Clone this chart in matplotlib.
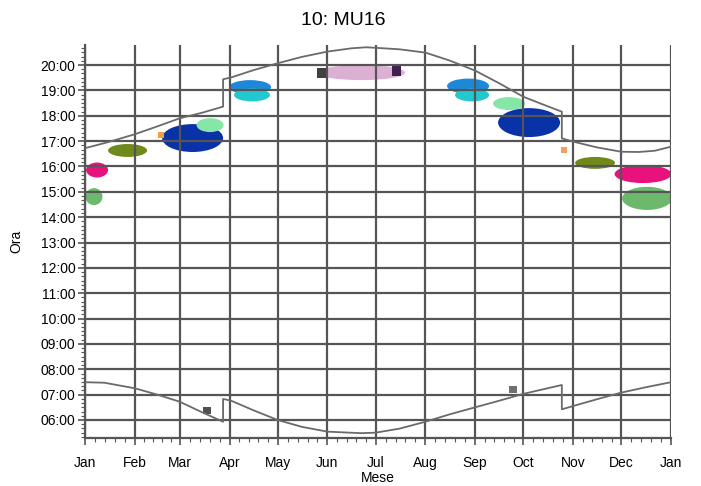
import numpy as np
from matplotlib import pyplot as plt
from matplotlib.patches import Ellipse
from matplotlib.ticker import MultipleLocator, FixedLocator, FuncFormatter

plt.rcParams['font.family'] = ['Liberation Sans', 'DejaVu Sans']

# mesi (giorno dell'anno di inizio mese)
month_days = [0, 31, 59, 90, 120, 151, 181, 212, 243, 273, 304, 334, 365]
month_labels = ["Jan", "Feb", "Mar", "Apr", "May", "Jun", "Jul", "Aug",
                "Sep", "Oct", "Nov", "Dec", "Jan"]

# tramonto (giorno, ora decimale)
sunset_day = [0, 15, 31, 45, 59, 73, 86, 86, 91, 105, 120, 135, 151, 166, 175,
              181, 196, 212, 227, 243, 258, 273, 285, 297, 297, 304, 319, 334,
              345, 355, 365]
sunset_hr = [16.72, 16.97, 17.27, 17.58, 17.90, 18.12, 18.36, 19.44, 19.51,
             19.80, 20.07, 20.32, 20.53, 20.66, 20.70, 20.68, 20.62, 20.49,
             20.18, 19.78, 19.28, 18.75, 18.45, 18.16, 17.11, 16.98, 16.75,
             16.58, 16.57, 16.62, 16.78]

# alba
sunrise_day = [0, 12, 31, 45, 59, 72, 86, 86, 91, 105, 120, 135, 151, 172, 181,
               196, 212, 227, 243, 258, 273, 297, 297, 304, 319, 334, 350, 365]
sunrise_hr = [7.49, 7.47, 7.25, 7.00, 6.72, 6.33, 5.93, 6.83, 6.76, 6.38, 6.00,
              5.73, 5.54, 5.48, 5.50, 5.66, 5.93, 6.22, 6.50, 6.76, 7.03, 7.38,
              6.42, 6.55, 6.82, 7.08, 7.30, 7.49]

# zone di abbagliamento: centro (giorno, ora), ampiezza (giorni), altezza (ore)
glare_day = [5.6, 7.5, 26.5, 67.0, 77.9, 102.8, 104.0, 171.9, 238.6, 241.1,
             264.1, 276.6, 317.7, 347.6, 350.1]
glare_hr = [14.81, 15.86, 16.63, 17.12, 17.63, 19.13, 18.82, 19.70, 19.17,
            18.82, 18.48, 17.73, 16.14, 15.70, 14.74]
glare_w = [10.6, 13.7, 24.3, 38.0, 16.8, 26.2, 22.4, 54.8, 26.2, 21.2, 19.9,
           38.6, 24.9, 35.5, 31.1]
glare_h = [0.67, 0.59, 0.51, 1.10, 0.55, 0.55, 0.51, 0.59, 0.59, 0.51, 0.51,
           1.14, 0.47, 0.71, 0.91]
glare_col = ['#6cb86c', '#e8127c', '#6f8a1a', '#0a32a8', '#86e6a8', '#1e88d8',
             '#22c8d0', '#dcb0d4', '#1e88d8', '#22c8d0', '#86e6a8', '#0a32a8',
             '#6f8a1a', '#e8127c', '#6cb86c']

# piccole macchie
spot_day = [47.3, 76.0, 147.5, 194.0, 266.6, 298.4]
spot_hr = [17.24, 6.38, 19.70, 19.78, 7.22, 16.65]
spot_col = ['#f0a040', '#505050', '#404040', '#402050', '#707070', '#f0a060']
spot_size = [20, 26, 50, 50, 26, 20]

fig = plt.figure(figsize=(7.01, 4.86), dpi=100)
ax = fig.add_axes([0.1213, 0.0988, 0.8359, 0.8086])

for d, h, w, hh, c in zip(glare_day, glare_hr, glare_w, glare_h, glare_col):
    ax.add_patch(Ellipse((d, h), w, hh, facecolor=c, edgecolor='none', zorder=0.2))
ax.scatter(spot_day, spot_hr, s=spot_size, c=spot_col, marker='s', zorder=0.3,
           linewidths=0)

ax.plot(sunset_day, sunset_hr, color='#6a6a6a', lw=1.3, zorder=5)
ax.plot(sunrise_day, sunrise_hr, color='#6a6a6a', lw=1.3, zorder=5)

ax.set_xlim(0, 365)
ax.set_ylim(5.29, 20.79)

ax.set_xticks(month_days)
ax.set_xticklabels(month_labels)
minor_x = []
for a, b in zip(month_days[:-1], month_days[1:]):
    minor_x += list(np.linspace(a, b, 6)[1:-1])
ax.xaxis.set_minor_locator(FixedLocator(minor_x))

ax.set_yticks(range(6, 21))
ax.yaxis.set_major_formatter(FuncFormatter(lambda v, p: "%02d:00" % int(round(v))))
ax.yaxis.set_minor_locator(MultipleLocator(1 / 6))

ax.tick_params(which='major', length=5, width=1.2, color='#555555', labelsize=10)
ax.tick_params(axis='x', which='major', pad=8)
ax.tick_params(axis='y', which='major', pad=2)
ax.tick_params(which='minor', length=3, width=0.8, color='#555555')

ax.grid(True, which='major', color='#555555', linewidth=1.6, zorder=1)
for s in ['top', 'right']:
    ax.spines[s].set_visible(False)
for s in ['left', 'bottom']:
    ax.spines[s].set_color('#555555')
    ax.spines[s].set_linewidth(1.6)

ax.set_xlabel("Mese", fontsize=10, labelpad=1)
ax.set_ylabel("Ora", fontsize=10, labelpad=12)
fig.text(0.49, 0.958, "10: MU16", ha='center', va='center', fontsize=14)

plt.savefig("out.png", dpi=100)
plt.close()
